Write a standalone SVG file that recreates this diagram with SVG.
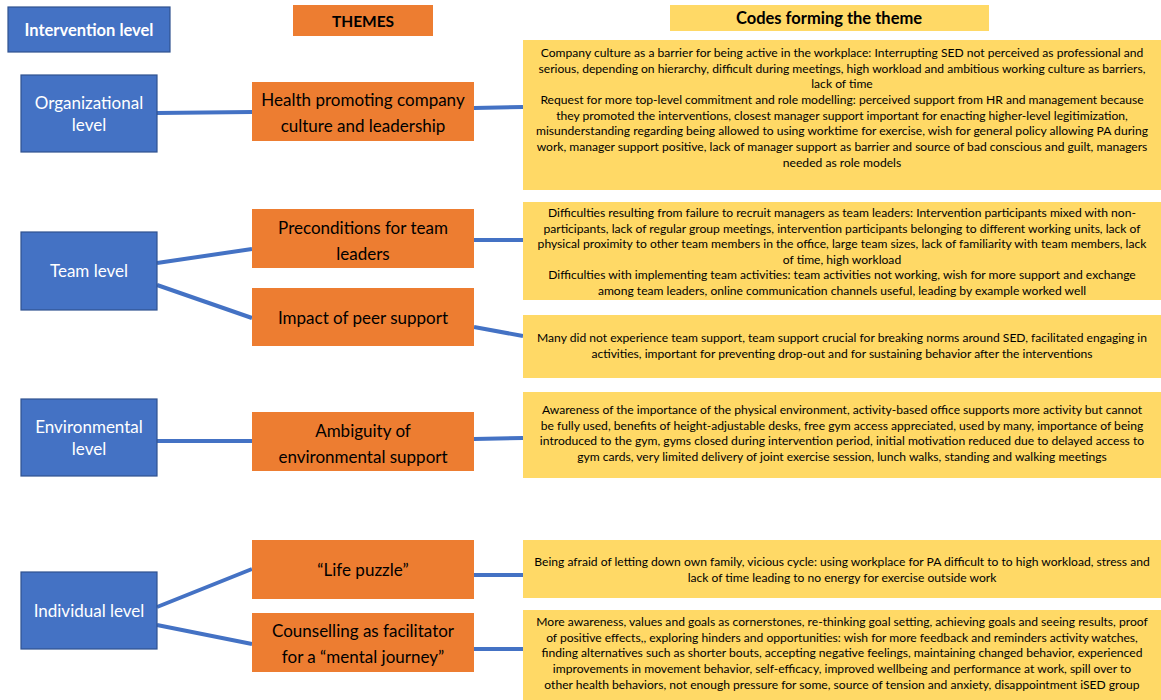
<svg xmlns="http://www.w3.org/2000/svg" width="1161" height="700" viewBox="0 0 1161 700">
<style>
.lvl{fill:#4472C4;stroke:#2F528F;stroke-width:1.2}
.thm{fill:#ED7D31}
.cod{fill:#FFD966}
.conn line{stroke:#4472C4;stroke-width:4;stroke-linecap:butt}
.lt{font-family:Lato,"Open Sans",sans-serif;font-size:17px;fill:#fff;text-anchor:middle}
.tt{font-family:Lato,"Open Sans",sans-serif;font-size:17px;fill:#000;text-anchor:middle}
.ct{font-family:Lato,"Open Sans",sans-serif;font-size:12.1px;fill:#000;text-anchor:middle}
.hb{font-family:Lato,"Open Sans",sans-serif;font-size:16.5px;font-weight:bold;text-anchor:middle}
</style>
<rect width="1161" height="700" fill="#fff"/>
<g id="header-level"><rect class="lvl" x="8" y="7" width="162" height="45"/><text class="hb" x="89" y="36" fill="#fff">Intervention level</text></g>
<g id="header-themes"><rect class="thm" x="293" y="5" width="140" height="31"/><text class="hb" x="363" y="26.5" fill="#000" style="font-size:15.5px">THEMES</text></g>
<g id="header-codes"><rect class="cod" x="670" y="5" width="319" height="26"/><text class="hb" x="829" y="24" fill="#000">Codes forming the theme</text></g>

<g class="conn" id="connectors">
<line x1="157" y1="113" x2="252" y2="112"/>
<line x1="474" y1="108" x2="523" y2="107"/>
<line x1="157" y1="263" x2="252" y2="249"/>
<line x1="157" y1="285" x2="252" y2="318"/>
<line x1="474" y1="240" x2="523" y2="240"/>
<line x1="474" y1="327" x2="523" y2="336"/>
<line x1="157" y1="441" x2="252" y2="441"/>
<line x1="474" y1="439" x2="523" y2="438"/>
<line x1="157" y1="607" x2="252" y2="569"/>
<line x1="157" y1="625" x2="252" y2="644"/>
<line x1="474" y1="575" x2="523" y2="575"/>
<line x1="474" y1="649" x2="523" y2="649"/>
</g>

<g id="lvl-org"><rect class="lvl" x="21" y="75" width="136" height="77"/><text class="lt" x="89" y="109">Organizational</text><text class="lt" x="89" y="131">level</text></g>
<g id="lvl-team"><rect class="lvl" x="21" y="232" width="136" height="78"/><text class="lt" x="89" y="277">Team level</text></g>
<g id="lvl-env"><rect class="lvl" x="21" y="399" width="136" height="77"/><text class="lt" x="89" y="433">Environmental</text><text class="lt" x="89" y="455">level</text></g>
<g id="lvl-ind"><rect class="lvl" x="21" y="572" width="136" height="77"/><text class="lt" x="89" y="617">Individual level</text></g>

<g id="th-health"><rect class="thm" x="252" y="82" width="222" height="59"/><text class="tt" x="363" y="106">Health promoting company</text><text class="tt" x="363" y="132">culture and leadership</text></g>
<g id="th-precond"><rect class="thm" x="252" y="209" width="222" height="59"/><text class="tt" x="363" y="234">Preconditions for team</text><text class="tt" x="363" y="260">leaders</text></g>
<g id="th-peer"><rect class="thm" x="252" y="288" width="222" height="58"/><text class="tt" x="363" y="324">Impact of peer support</text></g>
<g id="th-ambig"><rect class="thm" x="252" y="412" width="222" height="59"/><text class="tt" x="363" y="437">Ambiguity of</text><text class="tt" x="363" y="463">environmental support</text></g>
<g id="th-life"><rect class="thm" x="252" y="540" width="222" height="59"/><text class="tt" x="363" y="576">“Life puzzle”</text></g>
<g id="th-couns"><rect class="thm" x="252" y="613" width="222" height="59"/><text class="tt" x="363" y="637">Counselling as facilitator</text><text class="tt" x="363" y="663">for a “mental journey”</text></g>

<g id="code-1"><rect class="cod" x="523" y="40" width="638" height="150"/>
<text class="ct" x="842" y="57">Company culture as a barrier for being active in the workplace: Interrupting SED not perceived as professional and</text>
<text class="ct" x="842" y="72.5">serious, depending on hierarchy, difficult during meetings, high workload and ambitious working culture as barriers,</text>
<text class="ct" x="842" y="88">lack of time</text>
<text class="ct" x="842" y="104">Request for more top-level commitment and role modelling: perceived support from HR and management because</text>
<text class="ct" x="842" y="119.5">they promoted the interventions, closest manager support important for enacting higher-level legitimization,</text>
<text class="ct" x="842" y="135">misunderstanding regarding being allowed to using worktime for exercise, wish for general policy allowing PA during</text>
<text class="ct" x="842" y="151">work, manager support positive, lack of manager support as barrier and source of bad conscious and guilt, managers</text>
<text class="ct" x="842" y="166.5">needed as role models</text>
</g>
<g id="code-2"><rect class="cod" x="523" y="202" width="638" height="98"/>
<text class="ct" x="842" y="217">Difficulties resulting from failure to recruit managers as team leaders: Intervention participants mixed with non-</text>
<text class="ct" x="842" y="233">participants, lack of regular group meetings, intervention participants belonging to different working units, lack of</text>
<text class="ct" x="842" y="248">physical proximity to other team members in the office, large team sizes, lack of familiarity with team members, lack</text>
<text class="ct" x="842" y="264">of time, high workload</text>
<text class="ct" x="842" y="279">Difficulties with implementing team activities: team activities not working, wish for more support and exchange</text>
<text class="ct" x="842" y="295">among team leaders, online communication channels useful, leading by example worked well</text>
</g>
<g id="code-3"><rect class="cod" x="523" y="315" width="638" height="63"/>
<text class="ct" x="842" y="342">Many did not experience team support, team support crucial for breaking norms around SED, facilitated engaging in</text>
<text class="ct" x="842" y="358">activities, important for preventing drop-out and for sustaining behavior after the interventions</text>
</g>
<g id="code-4"><rect class="cod" x="523" y="392" width="638" height="86"/>
<text class="ct" x="842" y="414">Awareness of the importance of the physical environment, activity-based office supports more activity but cannot</text>
<text class="ct" x="842" y="429.5">be fully used, benefits of height-adjustable desks, free gym access appreciated, used by many, importance of being</text>
<text class="ct" x="842" y="445">introduced to the gym, gyms closed during intervention period, initial motivation reduced due to delayed access to</text>
<text class="ct" x="842" y="461">gym cards, very limited delivery of joint exercise session, lunch walks, standing and walking meetings</text>
</g>
<g id="code-5"><rect class="cod" x="523" y="540" width="638" height="58"/>
<text class="ct" x="842" y="566">Being afraid of letting down own family, vicious cycle: using workplace for PA difficult to to high workload, stress and</text>
<text class="ct" x="842" y="582">lack of time leading to no energy for exercise outside work</text>
</g>
<g id="code-6"><rect class="cod" x="523" y="610" width="638" height="90"/>
<text class="ct" x="842" y="626">More awareness, values and goals as cornerstones, re-thinking goal setting, achieving goals and seeing results, proof</text>
<text class="ct" x="842" y="642">of positive effects,, exploring hinders and opportunities: wish for more feedback and reminders activity watches,</text>
<text class="ct" x="842" y="657">finding alternatives such as shorter bouts, accepting negative feelings, maintaining changed behavior, experienced</text>
<text class="ct" x="842" y="673">improvements in movement behavior, self-efficacy, improved wellbeing and performance at work, spill over to</text>
<text class="ct" x="842" y="689">other health behaviors, not enough pressure for some, source of tension and anxiety, disappointment iSED group</text>
</g>
</svg>
